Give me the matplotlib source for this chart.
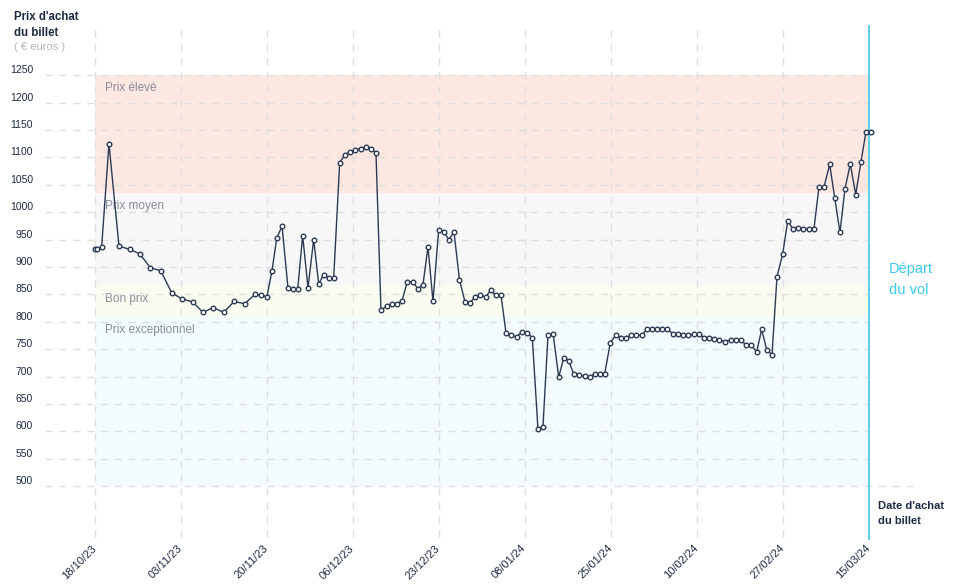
import matplotlib
matplotlib.use("Agg")
import matplotlib.pyplot as plt
import matplotlib.transforms as mtransforms

plt.rcParams['font.family'] = ['Liberation Sans', 'DejaVu Sans']

# ---- data -------------------------------------------------------------
# days since 18/10/23 (purchase date) and ticket price in euros
days = [0.0, 0.44, 1.29, 2.69, 4.62, 6.74, 8.6, 10.64, 12.65, 14.76,
        16.69, 18.86, 20.79, 22.77, 24.77, 26.76, 28.82, 30.8, 31.95, 33.1,
        34.07, 34.98, 36.0, 37.15, 38.11, 39.02, 39.98, 41.0, 42.1, 43.06,
        44.02, 45.0, 45.95, 47.1, 48.12, 49.03, 50.05, 51.14, 52.16, 53.13,
        54.09, 55.05, 56.15, 57.17, 58.13, 59.1, 60.11, 61.15, 62.17, 63.14,
        64.1, 65.06, 66.16, 67.12, 68.14, 69.1, 70.16, 71.22, 72.18, 73.15,
        74.11, 75.21, 76.17, 77.19, 78.15, 79.11, 80.13, 81.17, 82.19, 83.16,
        84.18, 85.27, 86.23, 87.2, 88.2, 89.26, 90.22, 91.2, 92.16, 93.2,
        94.26, 95.23, 96.19, 97.15, 98.11, 99.2, 100.23, 101.2, 102.16, 103.24,
        104.2, 105.24, 106.2, 107.22, 108.18, 109.2, 110.16, 111.2, 112.17, 113.19,
        114.2, 115.24, 116.27, 117.23, 118.23, 119.23, 120.2, 121.27, 122.37, 123.39,
        124.35, 125.31, 126.28, 127.37, 128.33, 129.3, 130.32, 131.28, 132.38, 133.34,
        134.3, 135.27, 136.34, 137.38, 138.4, 139.36, 140.33, 141.42, 142.39, 143.4,
        144.37, 145.39, 146.43, 147.45, 148.41, 149.43]
prices = [933, 933, 937, 1125, 938, 932, 924, 899, 893, 853,
          842, 836, 817, 826, 817, 837, 833, 850, 848, 846,
          893, 952, 975, 862, 860, 860, 957, 862, 950, 869,
          886, 880, 880, 1090, 1105, 1110, 1114, 1116, 1119, 1116,
          1108, 821, 829, 833, 833, 838, 873, 873, 860, 868,
          937, 837, 968, 964, 950, 964, 877, 836, 835, 845,
          849, 845, 858, 848, 849, 780, 775, 773, 782, 780,
          771, 604, 608, 775, 777, 699, 734, 729, 704, 702,
          701, 699, 705, 705, 705, 762, 775, 771, 771, 776,
          776, 775, 786, 787, 786, 786, 787, 778, 778, 776,
          775, 778, 778, 771, 771, 769, 766, 764, 767, 766,
          766, 758, 758, 745, 786, 749, 740, 882, 924, 984,
          970, 972, 970, 970, 970, 1046, 1046, 1087, 1026, 963,
          1043, 1088, 1032, 1092, 1147, 1147]

tick_labels = ["18/10/23", "03/11/23", "20/11/23", "06/12/23", "23/12/23",
               "08/01/24", "25/01/24", "10/02/24", "27/02/24", "15/03/24"]
departure_day = 149

y_ticks = [500, 550, 600, 650, 700, 750, 800, 850, 900, 950, 1000,
           1050, 1100, 1150, 1200, 1250]

band_names = ["Prix élevé", "Prix moyen", "Bon prix", "Prix exceptionnel"]
band_tops = [1250, 1035, 865, 808]
band_bottoms = [1035, 865, 808, 500]
band_colors = ["#fde7e1", "#f7f7f7", "#fbfcf1", "#f3fbfe"]

# ---- figure -------------------------------------------------------------
W, H = 958, 585
fig = plt.figure(figsize=(W / 100, H / 100), dpi=100)
L, R, T, B = 45, 918, 22, 540
ax = fig.add_axes([L / W, (H - B) / H, (R - L) / W, (B - T) / H])
ax.set_xlim(-9.62, 158.42)
ax.set_ylim(401.8, 1347)
for s in ax.spines.values():
    s.set_visible(False)
ax.set_yticks([])
ax.tick_params(axis='x', length=0, pad=3)

grid_c = "#dedede"
dash = (0, (5, 5))

# bands
for name, top, bot, col in zip(band_names, band_tops, band_bottoms, band_colors):
    ax.fill_between([0, departure_day], bot, top, color=col, lw=0, zorder=0)
    ax.annotate(name, xy=(0, top), xytext=(10, -7), textcoords='offset pixels',
                ha='left', va='top', fontsize=8.5, color="#8a8d9b", zorder=1)

# horizontal grid
for v in y_ticks:
    xmax = ax.get_xlim()[1] if v == 500 else departure_day
    ax.plot([ax.get_xlim()[0], xmax], [v, v], color=grid_c, lw=1,
            linestyle=dash, zorder=1)
    ax.annotate(str(v), xy=(33, v), xycoords=('figure pixels', 'data'),
                xytext=(0, 5), textcoords='offset pixels',
                ha='right', va='center', fontsize=7.5, color="#1f2a44")

# vertical grid / ticks
xt = [k * departure_day / 9 for k in range(10)]
for x in xt[:-1]:
    ax.axvline(x, ymin=0.005, ymax=0.994, color=grid_c, lw=1, linestyle=dash, zorder=1)
ax.set_xticks(xt)
ax.set_xticklabels(tick_labels, rotation=45, ha='right', va='top',
                   rotation_mode='anchor', fontsize=8, color="#1f2a44")
offset = mtransforms.ScaledTranslation(-4 / 100, 1 / 100, fig.dpi_scale_trans)
for lab in ax.get_xticklabels():
    lab.set_transform(lab.get_transform() + offset)

# departure line
top_val = 1347 - 4 * 1.8248
ax.axvline(departure_day, ymin=0, ymax=(top_val - 401.8) / (1347 - 401.8),
           color="#4cc9ec", lw=1.3, zorder=2)

# price line
ax.plot(days, prices, color="#2c3a55", lw=1.0, zorder=3,
        marker='o', markersize=3.3, markerfacecolor='white',
        markeredgecolor="#2c3a55", markeredgewidth=1.0)

# texts
fig.text(14 / W, 1 - 17 / H, "Prix d'achat", fontsize=8.3, fontweight='bold',
         color="#1f2a44", ha='left', va='center')
fig.text(14 / W, 1 - 33 / H, "du billet", fontsize=8.3, fontweight='bold',
         color="#1f2a44", ha='left', va='center')
fig.text(14 / W, 1 - 47 / H, "( € euros )", fontsize=8, color="#b5b5b5",
         ha='left', va='center')
fig.text(878 / W, 1 - 506 / H, "Date d'achat", fontsize=8, fontweight='bold',
         color="#1f2a44", ha='left', va='center')
fig.text(878 / W, 1 - 521 / H, "du billet", fontsize=8, fontweight='bold',
         color="#1f2a44", ha='left', va='center')
fig.text(889 / W, 1 - 269 / H, "Départ", fontsize=10.5, color="#3ccbf0",
         ha='left', va='center')
fig.text(889 / W, 1 - 290 / H, "du vol", fontsize=10.5, color="#3ccbf0",
         ha='left', va='center')

fig.savefig("out.png", dpi=100)
